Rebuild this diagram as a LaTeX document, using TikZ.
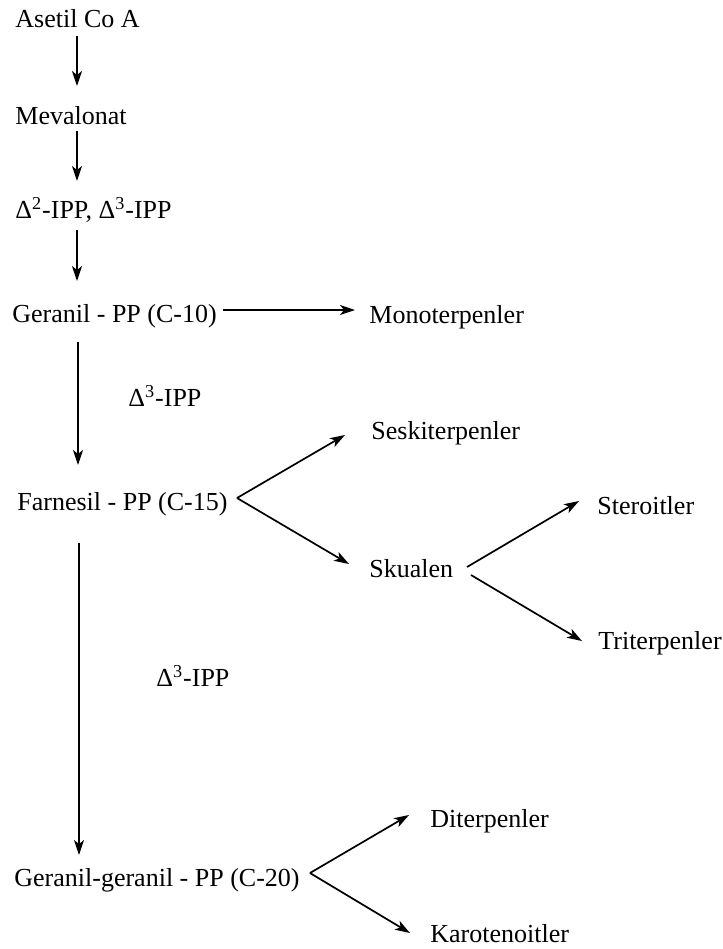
\documentclass[tikz,border=0pt]{standalone}
\usepackage{fontspec}
\setmainfont{Liberation Serif}
\usetikzlibrary{arrows.meta}
\begin{document}
\begin{tikzpicture}[x=0.5pt,y=-0.5pt,
  lbl/.style={anchor=base west,inner sep=0pt,font=\fontsize{13}{15.6}\selectfont},
  arr/.style={line width=0.85pt,-{Stealth[length=7.5pt,width=5pt,inset=2pt]}}]
\useasboundingbox (0,0) rectangle (723,949);
% texts
\node[lbl] (asetil) at (15,27) {Asetil Co A};
\node[lbl] (meva) at (15,124) {Mevalonat};
\node[lbl] (ipp) at (15,218) {Δ\textsuperscript{2}-IPP, Δ\textsuperscript{3}-IPP};
\node[lbl] (ger) at (12,322) {Geranil - PP (C-10)};
\node[lbl] (mono) at (369,323) {Monoterpenler};
\node[lbl] (ippa) at (128,406) {Δ\textsuperscript{3}-IPP};
\node[lbl] (sesk) at (371,439) {Seskiterpenler};
\node[lbl] (farn) at (17,510) {Farnesil - PP (C-15)};
\node[lbl] (ster) at (597,514) {Steroitler};
\node[lbl] (skua) at (369,577) {Skualen};
\node[lbl] (trit) at (598,649) {Triterpenler};
\node[lbl] (ippb) at (156,686) {Δ\textsuperscript{3}-IPP};
\node[lbl] (dite) at (430,827) {Diterpenler};
\node[lbl] (gg) at (14,886) {Geranil-geranil - PP (C-20)};
\node[lbl] (karo) at (430,942) {Karotenoitler};
% connector end points
\coordinate (asetilS) at (77,36);   \coordinate (mevaN) at (77,86);
\coordinate (mevaS) at (77,131);    \coordinate (ippN) at (77,181);
\coordinate (ippS) at (77,230);     \coordinate (gerN) at (77,281);
\coordinate (gerE) at (223,310);    \coordinate (monoW) at (355,310);
\coordinate (gerS) at (78,342);     \coordinate (farnN) at (78,465);
\coordinate (farnE) at (237,498);   \coordinate (seskW) at (345,435);
\coordinate (skuaW) at (349,564);
\coordinate (skuaE1) at (467,567);  \coordinate (sterW) at (579,501);
\coordinate (skuaE2) at (471,575);  \coordinate (tritW) at (582,641);
\coordinate (farnS) at (79,543);    \coordinate (ggN) at (79,855);
\coordinate (ggE) at (310,873);     \coordinate (diteW) at (409,815);
\coordinate (karoW) at (410,933);
% connectors
\draw[arr] (asetilS) -- (mevaN);
\draw[arr] (mevaS) -- (ippN);
\draw[arr] (ippS) -- (gerN);
\draw[arr] (gerE) -- (monoW);
\draw[arr] (gerS) -- (farnN);
\draw[arr] (farnE) -- (seskW);
\draw[arr] (farnE) -- (skuaW);
\draw[arr] (skuaE1) -- (sterW);
\draw[arr] (skuaE2) -- (tritW);
\draw[arr] (farnS) -- (ggN);
\draw[arr] (ggE) -- (diteW);
\draw[arr] (ggE) -- (karoW);
\end{tikzpicture}
\end{document}
